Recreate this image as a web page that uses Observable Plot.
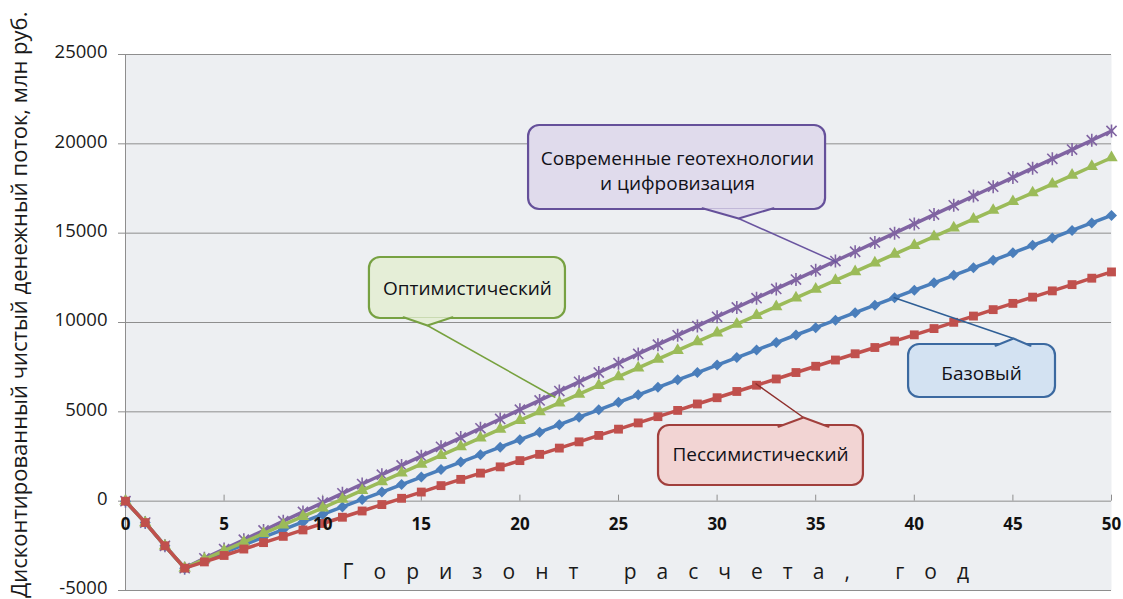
<!DOCTYPE html>
<html><head><meta charset="utf-8">
<script src="https://cdn.jsdelivr.net/npm/d3@7"></script>
<script src="https://cdn.jsdelivr.net/npm/@observablehq/plot@0.6"></script>
<style>body{margin:0;background:#fff;}#chart svg{display:block;}</style>
</head><body><div id="chart"></div>
<script>
const years = [0,1,2,3,4,5,6,7,8,9,10,11,12,13,14,15,16,17,18,19,20,21,22,23,24,25,26,27,28,29,30,31,32,33,34,35,36,37,38,39,40,41,42,43,44,45,46,47,48,49,50];
const seriesNames = ["Современные геотехнологии и цифровизация","Оптимистический","Базовый","Пессимистический"];
const modern = [0,-1200,-2500,-3750,-3200,-2680,-2160,-1640,-1120,-600,-80,440,960,1480,2000,2520,3040,3560,4080,4600,5120,5640,6160,6680,7200,7720,8240,8760,9280,9800,10320,10840,11360,11880,12400,12920,13440,13960,14480,15000,15520,16040,16560,17080,17600,18120,18640,19160,19680,20200,20720];
const optimistic = [0,-1200,-2500,-3750,-3250,-2770,-2290,-1810,-1330,-850,-380,110,600,1090,1580,2070,2560,3050,3540,4030,4520,5010,5500,5990,6480,6970,7460,7950,8440,8930,9420,9910,10400,10890,11380,11870,12360,12850,13340,13830,14320,14810,15300,15790,16280,16770,17260,17750,18240,18730,19220];
const base = [0,-1200,-2500,-3750,-3300,-2870,-2440,-2010,-1590,-1160,-740,-320,100,510,930,1350,1770,2190,2600,3020,3440,3860,4280,4700,5110,5530,5950,6370,6790,7200,7620,8040,8460,8880,9300,9710,10130,10550,10970,11390,11810,12220,12640,13060,13480,13900,14320,14730,15150,15570,15990];
const pessimistic = [0,-1200,-2500,-3750,-3400,-3040,-2680,-2320,-1970,-1610,-1250,-900,-550,-190,160,510,870,1220,1570,1920,2270,2620,2970,3320,3680,4030,4380,4730,5080,5440,5790,6140,6490,6840,7200,7550,7900,8250,8600,8960,9310,9660,10010,10360,10720,11070,11420,11770,12120,12480,12830];
const seriesColors = ["#8064A2","#9BBB59","#4A7EBB","#C0504D"];

const xTicks = [0,5,10,15,20,25,30,35,40,45,50];
const yTicks = [-5000,0,5000,10000,15000,20000,25000];
const yTitle = "Дисконтированный чистый денежный поток, млн руб.";
const xTitle = "Горизонт расчета, год";
// title anchor positions (data coordinates)
const yTitlePos = {x: -5.35, y: 11000};
const xTitlePos = {x: 27.4, y: -3960};

// callouts (data coordinates)
const calloutLabels = ["Современные геотехнологии\nи цифровизация","Оптимистический","Базовый","Пессимистический"];
const calloutX1 = [20.44, 12.37, 39.71, 27.03];
const calloutX2 = [35.5, 22.31, 47.16, 37.42];
const calloutY1 = [16324, 10224, 5802, 877];
const calloutY2 = [21026, 13638, 8769, 4235];
const calloutTextX = [27.99, 17.34, 43.41, 32.2];
const calloutTextY = [18550, 12000, 7257, 2724];
const notchSide = ["bottom","bottom","top","top"];
const notchX1 = [29.26, 14.10, 44.12, 33.11];
const notchX2 = [32.86, 16.58, 45.89, 35.65];
const notchTipX = [31.09, 15.31, 45.03, 34.38];
const notchTipY = [15820, 9832, 9104, 4683];
const targetX = [36.1, 21.8, 38.95, 31.95];
const targetY = [13358, 5802, 11399, 6586];
const calloutFill = ["#E0DBEC","#E5EED7","#D3E2F2","#F2D4D3"];
const calloutStroke = ["#65509A","#77A142","#3B69A0","#A13F3C"];
const leaderStroke = ["#6A55A0","#77A13E","#2F5F96","#8E2E2B"];

const series = [modern, optimistic, base, pessimistic];
const rows = [];
series.forEach((vals, s) => years.forEach((yr, i) => rows.push({s, year: yr, value: vals[i]})));

const callouts = calloutLabels.map((label, i) => ({
  label, x1: calloutX1[i], x2: calloutX2[i], y1: calloutY1[i], y2: calloutY2[i],
  tx: calloutTextX[i], ty: calloutTextY[i], fill: calloutFill[i], stroke: calloutStroke[i],
  lstroke: leaderStroke[i], tipX: notchTipX[i], tipY: notchTipY[i], targetX: targetX[i], targetY: targetY[i]
}));
const notchPts = [];
callouts.forEach((c, i) => {
  const by = notchSide[i] === "bottom" ? c.y1 + 70 : c.y2 - 70;
  notchPts.push({i, x: notchX1[i], y: by}, {i, x: c.tipX, y: c.tipY}, {i, x: notchX2[i], y: by});
});

const starSymbol = {draw(ctx, size) {
  const r = Math.sqrt(size / Math.PI), d = r * 0.78;
  ctx.moveTo(-d, -d); ctx.lineTo(d, d);
  ctx.moveTo(d, -d); ctx.lineTo(-d, d);
  ctx.moveTo(0, -r); ctx.lineTo(0, r);
}};
const diamondSymbol = {draw(ctx, size) {
  const r = Math.sqrt(size / Math.PI) * 1.25;
  ctx.moveTo(0, -r); ctx.lineTo(r, 0); ctx.lineTo(0, r); ctx.lineTo(-r, 0); ctx.closePath();
}};

const font = "'Open Sans', 'Noto Sans', sans-serif";
const markerOpts = [
  {symbol: starSymbol, r: 6.5, fill: "none", stroke: seriesColors[0], strokeWidth: 1.6},
  {symbol: "triangle", r: 4.6, fill: seriesColors[1], stroke: "none"},
  {symbol: diamondSymbol, r: 4.4, fill: seriesColors[2], stroke: "none"},
  {symbol: "square", r: 5, fill: seriesColors[3], stroke: "none"}
];

const seriesMarks = [];
[0, 2, 1, 3].forEach(s => {
  const d = rows.filter(r => r.s === s);
  seriesMarks.push(Plot.line(d, {x: "year", y: "value", stroke: seriesColors[s], strokeWidth: 3.5}));
  seriesMarks.push(Plot.dot(d, {x: "year", y: "value", ...markerOpts[s]}));
});

const chart = Plot.plot({
  width: 1123, height: 599,
  marginLeft: 125, marginRight: 12, marginTop: 54, marginBottom: 9,
  style: {fontFamily: font, background: "#ffffff", color: "#1a1a1a"},
  x: {domain: [0, 50], axis: null},
  y: {domain: [-5000, 25000], axis: null},
  marks: [
    Plot.frame({fill: "#EDEFF2", stroke: "none"}),
    Plot.ruleY(yTicks, {x1: 0, x2: 50, stroke: "#8E8E8E", strokeWidth: 1, insetLeft: -7}),
    Plot.ruleX([0], {y1: -5000, y2: 25000, stroke: "#8E8E8E", strokeWidth: 1}),
    Plot.ruleX(xTicks, {x: d => d, y1: 0, y2: 0, insetTop: -6, stroke: "#8E8E8E", strokeWidth: 1}),
    Plot.text(yTicks, {x: 0, y: d => d, text: d => String(d), dx: -18, dy: -2, textAnchor: "end", fontSize: 18.5, fill: "#1a1a1a"}),
    Plot.text([xTitle], {x: xTitlePos.x, y: xTitlePos.y, fontSize: 21, fill: "#1a1a1a", text: d => d}),
    Plot.text([yTitle], {x: yTitlePos.x, y: yTitlePos.y, rotate: -90, fontSize: 22, fill: "#1a1a1a", text: d => d}),
    ...seriesMarks,
    Plot.text(xTicks, {x: d => d, y: 0, text: d => String(d), dy: 23, fontSize: 17, fontWeight: "bold", fill: "#111"}),
    Plot.link(callouts, {x1: "tipX", y1: "tipY", x2: "targetX", y2: "targetY", stroke: "lstroke", strokeWidth: 1.5}),
    Plot.rect(callouts, {x1: "x1", x2: "x2", y1: "y1", y2: "y2", fill: "fill", stroke: "stroke", strokeWidth: 2.2, rx: 11, ry: 11}),
    Plot.line(notchPts, {x: "x", y: "y", z: "i", fill: d => calloutFill[d.i], stroke: d => calloutStroke[d.i], strokeWidth: 2, curve: "linear"}),
    Plot.text(callouts, {x: "tx", y: "ty", text: "label", fontSize: 19, lineHeight: 1.32, fill: "#111118"})
  ]
});
chart.querySelectorAll("text").forEach(t => {
  if (t.textContent === xTitle) t.setAttribute("letter-spacing", "20px");
});
document.getElementById("chart").appendChild(chart);
</script>
</body></html>
